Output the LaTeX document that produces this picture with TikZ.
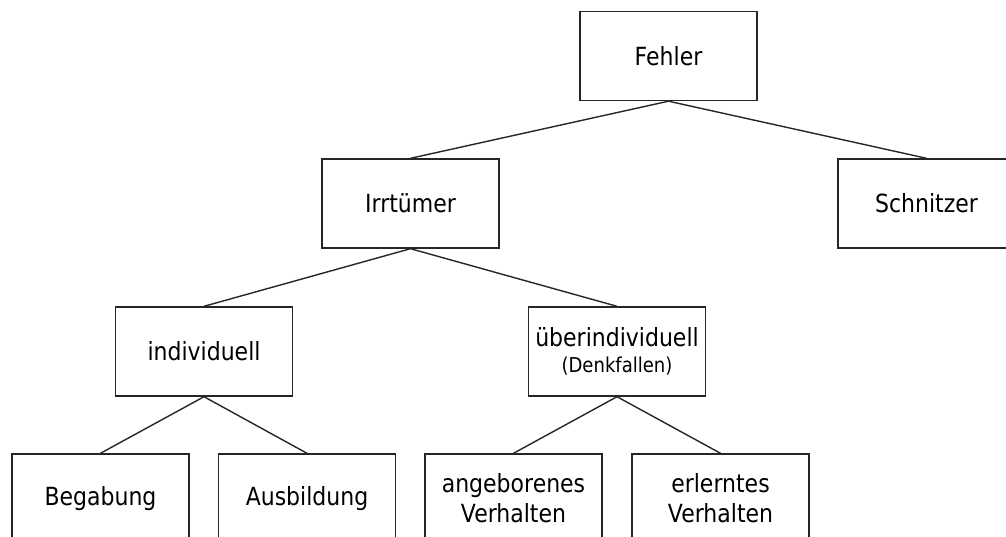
\documentclass[tikz,border=0pt]{standalone}
\usepackage{fontspec}
\setmainfont{DejaVu Sans}[FakeStretch=0.88]
\begin{document}
\begin{tikzpicture}[x=1pt,y=-1pt,
  box/.style={draw=black!85,line width=1.4pt,fill=white,minimum width=177pt,minimum height=89pt,
    inner sep=0pt,align=center,font=\fontsize{25}{30}\selectfont},
  link/.style={draw=black!85,line width=1.4pt}]
\useasboundingbox (0,0) rectangle (1006,537);
\clip (0,0) rectangle (1006,537);
\fill[white] (0,0) rectangle (1006,537);
% top level
\node[box] (fehler) at (668.5,56) {Fehler};
% second level
\node[box] (irrtum) at (410.5,203.5) {Irrtümer};
\node[box] (schnitzer) at (926.5,203.5) {Schnitzer};
% third level
\node[box] (indiv) at (204,351.5) {individuell};
\node[box] (ueber) at (617,351.5) {überindividuell\\[-4pt]{\fontsize{20.5}{23}\selectfont (Denkfallen)}};
% fourth level
\node[box] (begabung) at (100.5,498.5) {Begabung};
\node[box] (ausbildung) at (307,498.5) {Ausbildung};
\node[box] (angeboren) at (513.5,498.5) {angeborenes\\Verhalten};
\node[box] (erlernt) at (720.5,498.5) {erlerntes\\Verhalten};
% connectors
\draw[link] (fehler.south) -- (irrtum.north);
\draw[link] (fehler.south) -- (schnitzer.north);
\draw[link] (irrtum.south) -- (indiv.north);
\draw[link] (irrtum.south) -- (ueber.north);
\draw[link] (indiv.south) -- (begabung.north);
\draw[link] (indiv.south) -- (ausbildung.north);
\draw[link] (ueber.south) -- (angeboren.north);
\draw[link] (ueber.south) -- (erlernt.north);
\end{tikzpicture}
\end{document}
